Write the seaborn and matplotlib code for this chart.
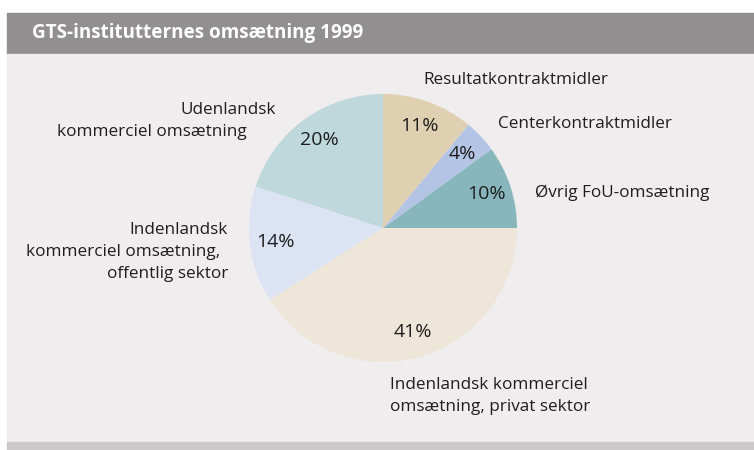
import matplotlib
matplotlib.use('agg')

import seaborn as sns
import matplotlib.pyplot as plt
from matplotlib.patches import Rectangle

sns.set_style('white')
plt.rcParams['font.family'] = ['Open Sans', 'DejaVu Sans']

title = 'GTS-institutternes omsætning 1999'
categories = ['Øvrig FoU-omsætning', 'Centerkontraktmidler', 'Resultatkontraktmidler',
              'Udenlandsk kommerciel omsætning',
              'Indenlandsk kommerciel omsætning, offentlig sektor',
              'Indenlandsk kommerciel omsætning, privat sektor']
shares = [10, 4, 11, 20, 14, 41]
colors = ['#87b7bc', '#b4c4e5', '#dfd0b1', '#bed8dc', '#dce3f3', '#efe6da']

W, H = 754, 450
fig = plt.figure(figsize=(W / 100, H / 100), dpi=100, facecolor='white')


def px_rect(x0, y0, x1, y1, color):
    # pixel box (top-down) -> figure patch, kept behind the axes
    fig.patches.append(Rectangle((x0 / W, 1 - y1 / H), (x1 - x0) / W, (y1 - y0) / H,
                                 transform=fig.transFigure, color=color, zorder=-10))


px_rect(7, 13, W, 54, '#918f90')
px_rect(7, 54, W, 442, '#efedee')
px_rect(7, 442, W, H, '#cbc9ca')

fig.text(32 / W, 1 - 33 / H, title, color='white', fontsize=13.6, fontweight='bold',
         va='center', ha='left')

# pie axes: centre (383, 228) px, radius 134 px
cx, cy, r, half = 383, 228, 134, 150
ax = fig.add_axes([(cx - half) / W, 1 - (cy + half) / H, 2 * half / W, 2 * half / H])
ax.pie(shares, colors=colors, startangle=0, counterclock=True,
       autopct='%d%%', pctdistance=0.81,
       textprops={'fontsize': 14, 'color': '#1e1e1e'},
       wedgeprops={'linewidth': 0})
lim = half / r
ax.set_xlim(-lim, lim)
ax.set_ylim(-lim, lim)
ax.set_aspect('equal')
ax.axis('off')

# outer labels, placed by hand as in the original layout
labels = [
    (423, 80, 'left', 'Resultatkontraktmidler'),
    (498, 124, 'left', 'Centerkontraktmidler'),
    (535, 193, 'left', 'Øvrig FoU-omsætning'),
    (180, 110, 'left', 'Udenlandsk'),
    (57, 132, 'left', 'kommerciel omsætning'),
    (228, 230, 'right', 'Indenlandsk'),
    (220, 252, 'right', 'kommerciel omsætning,'),
    (228, 274, 'right', 'offentlig sektor'),
    (390, 385, 'left', 'Indenlandsk kommerciel'),
    (390, 407, 'left', 'omsætning, privat sektor'),
]
for x, y, ha, s in labels:
    fig.text(x / W, 1 - y / H, s, ha=ha, va='center', fontsize=12.3, color='#1e1e1e')

fig.savefig('out.png', dpi=100, facecolor='white')
